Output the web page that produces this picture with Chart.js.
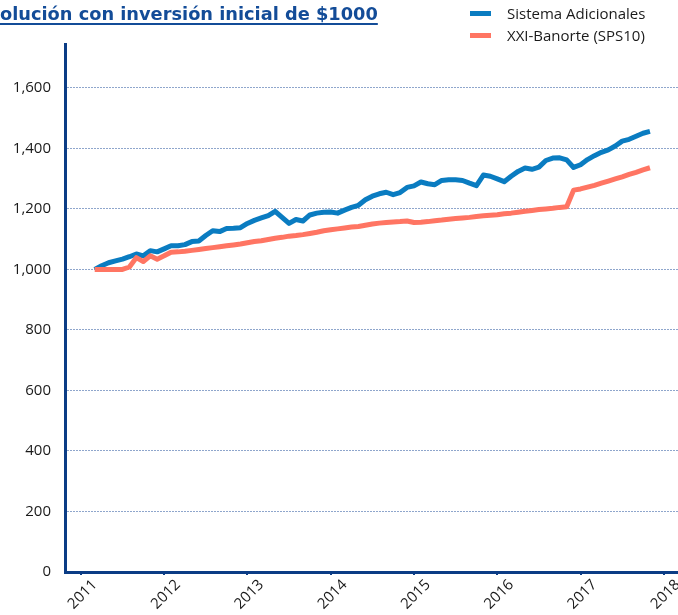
<!DOCTYPE html>
<html>
<head>
<meta charset="utf-8">
<script src="https://cdn.jsdelivr.net/npm/chart.js@4/dist/chart.umd.min.js"></script>
<style>
  html,body{margin:0;padding:0;background:#fff;}
  #wrap{position:relative;width:678px;height:615px;overflow:hidden;}
  #title{position:absolute;left:0;top:1px;font-family:"DejaVu Sans",sans-serif;font-weight:700;font-size:17.8px;color:#134C98;text-decoration:underline;text-underline-offset:3px;text-decoration-thickness:1.5px;white-space:nowrap;line-height:26px;}
  #legend{position:absolute;left:467px;top:0px;width:211px;height:46px;font-family:"Open Sans",sans-serif;font-size:15px;color:#1a1a1a;}
  .li{position:absolute;left:0;height:20px;line-height:20px;white-space:nowrap;}
  .sw{position:absolute;left:3px;top:8px;width:21px;height:5px;}
  .lt{position:absolute;left:40px;top:0;}
  canvas{position:absolute;left:0;top:0;}
</style>
</head>
<body>
<div id="wrap">
  <canvas id="c" width="678" height="615"></canvas>
  <div id="title">olución con inversión inicial de $1000</div>
  <div id="legend">
    <div class="li" style="top:3px"><span class="sw" style="background:#0A7CC1"></span><span class="lt">Sistema Adicionales</span></div>
    <div class="li" style="top:25px"><span class="sw" style="background:#FF7563"></span><span class="lt">XXI-Banorte (SPS10)</span></div>
  </div>
</div>
<script>
const months = [
"2011-03","2011-04","2011-05","2011-06","2011-07","2011-08","2011-09","2011-10","2011-11","2011-12",
"2012-01","2012-02","2012-03","2012-04","2012-05","2012-06","2012-07","2012-08","2012-09","2012-10","2012-11","2012-12",
"2013-01","2013-02","2013-03","2013-04","2013-05","2013-06","2013-07","2013-08","2013-09","2013-10","2013-11","2013-12",
"2014-01","2014-02","2014-03","2014-04","2014-05","2014-06","2014-07","2014-08","2014-09","2014-10","2014-11","2014-12",
"2015-01","2015-02","2015-03","2015-04","2015-05","2015-06","2015-07","2015-08","2015-09","2015-10","2015-11","2015-12",
"2016-01","2016-02","2016-03","2016-04","2016-05","2016-06","2016-07","2016-08","2016-09","2016-10","2016-11","2016-12",
"2017-01","2017-02","2017-03","2017-04","2017-05","2017-06","2017-07","2017-08","2017-09","2017-10","2017-11"
];
const sistemaAdicionales = [
1000,1012,1022,1028,1034,1042,1051,1045,1062,1058,
1068,1078,1078,1082,1092,1094,1112,1128,1125,1135,1136,1138,
1152,1162,1170,1178,1192,1172,1152,1165,1160,1180,1186,1189,
1190,1186,1196,1205,1212,1230,1242,1250,1255,1247,1254,1271,
1276,1289,1283,1280,1294,1296,1296,1294,1285,1277,1312,1308,
1299,1290,1308,1324,1335,1331,1338,1360,1368,1369,1362,1337,
1346,1363,1376,1387,1395,1408,1424,1430,1440,1450,1456
];
const xxiBanorte = [
1000,1000,1000,1000,1000,1008,1039,1026,1045,1034,
1045,1057,1058,1060,1063,1066,1069,1072,1075,1078,1081,1084,
1088,1092,1095,1099,1103,1106,1110,1112,1115,1119,1123,1128,
1131,1134,1137,1140,1142,1146,1150,1153,1155,1157,1158,1160,
1155,1156,1158,1161,1163,1166,1168,1170,1172,1175,1177,1179,
1181,1184,1186,1189,1192,1195,1198,1200,1202,1205,1207,1262,
1266,1272,1278,1285,1292,1299,1306,1314,1321,1329,1336
];
const yearTicks = [2011,2012,2013,2014,2015,2016,2017,2018];
const yTicks = [0,200,400,600,800,1000,1200,1400,1600];

function toX(m){ const p=m.split("-"); return +p[0] + (+p[1]-1)/12; }
const ptsA = months.map((m,i)=>({x:toX(m), y:sistemaAdicionales[i]}));
const ptsB = months.map((m,i)=>({x:toX(m), y:xxiBanorte[i]}));

const axisBlue = '#0B3C85';
const font = {family:'"Open Sans", sans-serif', size:15};

new Chart(document.getElementById('c'), {
  type:'line',
  data:{ datasets:[
    {label:'XXI-Banorte (SPS10)', data:ptsB, borderColor:'#FF7563', borderWidth:5, pointRadius:0, tension:0, borderCapStyle:'butt', borderJoinStyle:'round'},
    {label:'Sistema Adicionales', data:ptsA, borderColor:'#0A7CC1', borderWidth:5, pointRadius:0, tension:0, borderCapStyle:'butt', borderJoinStyle:'round'}
  ]},
  options:{
    responsive:false, animation:false, devicePixelRatio:1,
    layout:{padding:{top:44,right:0,left:0,bottom:0}},
    plugins:{legend:{display:false}, tooltip:{enabled:false}},
    scales:{
      x:{ type:'linear', min:2010.81, max:2018.17,
        afterBuildTicks:s=>{ s.ticks = yearTicks.map(v=>({value:v})); },
        afterFit:s=>{ s.height = 43; },
        grid:{display:true, drawOnChartArea:false, drawTicks:true, tickLength:3, color:axisBlue, lineWidth:2},
        border:{display:true, color:axisBlue, width:3},
        ticks:{ color:'#1a1a1a', font:font, minRotation:45, maxRotation:45, padding:1, labelOffset:14, callback:v=>String(v) }
      },
      y:{ min:0, max:1745,
        afterBuildTicks:s=>{ s.ticks = yTicks.map(v=>({value:v})); },
        afterFit:s=>{ s.width = 65; },
        grid:{ color:'#8FA6CC', lineWidth:1, drawTicks:false },
        border:{display:true, color:axisBlue, width:3, dash:[2,1]},
        ticks:{ color:'#1a1a1a', font:font, padding:14, callback:v=>v.toLocaleString('en-US') }
      }
    }
  }
});
</script>
</body>
</html>
